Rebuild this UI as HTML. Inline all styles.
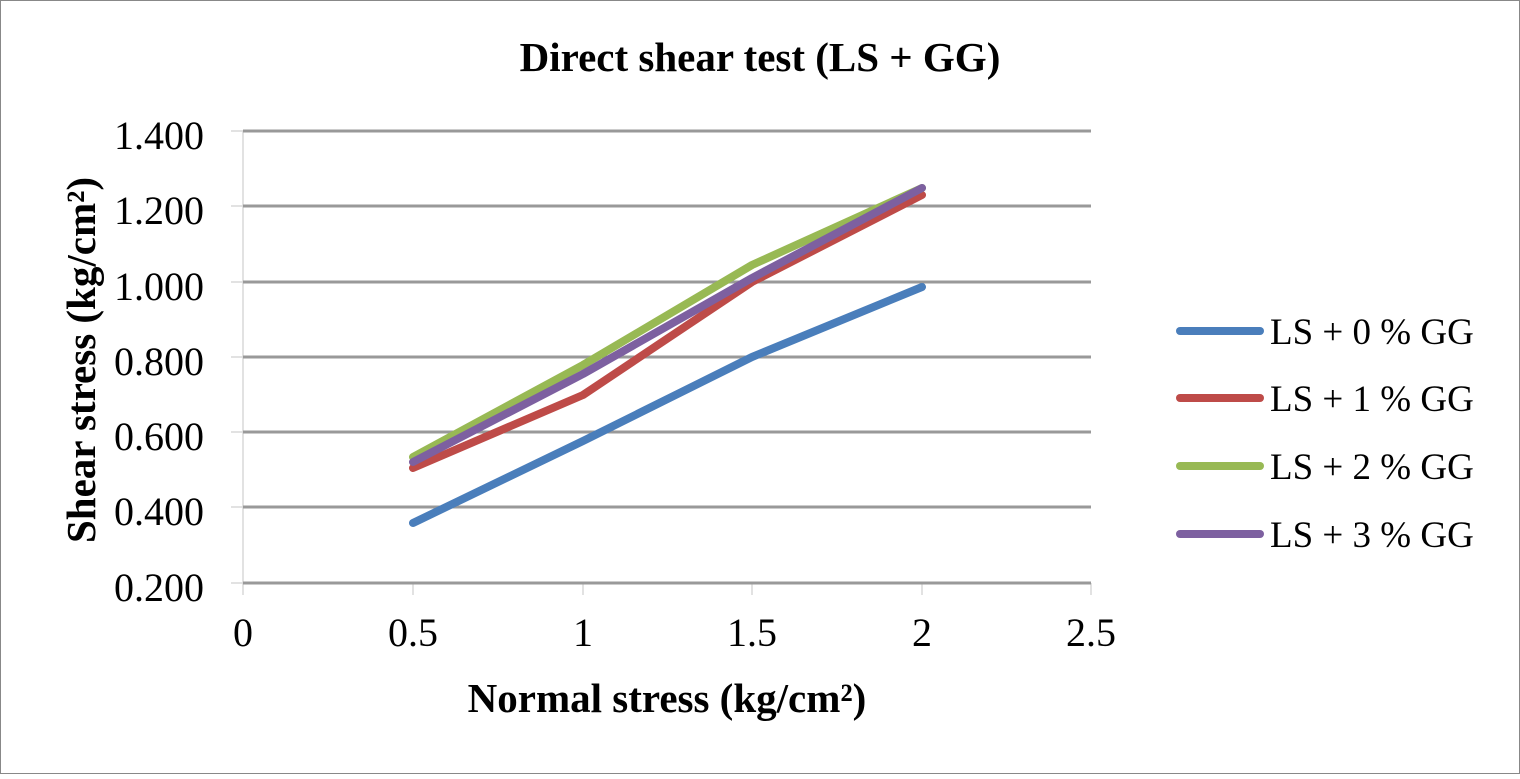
<!DOCTYPE html>
<html><head><meta charset="utf-8"><style>
html,body{margin:0;padding:0;background:#fff}
</style></head><body>
<svg width="1520" height="774" xmlns="http://www.w3.org/2000/svg" font-family="Liberation Serif, serif">
<rect x="0.5" y="0.5" width="1519" height="773" fill="#fff" stroke="#888" stroke-width="1"/>
<text x="760" y="71" text-anchor="middle" font-size="41" font-weight="bold">Direct shear test (LS + GG)</text>
<g stroke="#d9d9d9" stroke-width="1.5">
<line x1="231" y1="131" x2="243" y2="131"/>
<line x1="231" y1="206" x2="243" y2="206"/>
<line x1="231" y1="282" x2="243" y2="282"/>
<line x1="231" y1="357" x2="243" y2="357"/>
<line x1="231" y1="432" x2="243" y2="432"/>
<line x1="231" y1="507" x2="243" y2="507"/>
<line x1="231" y1="583" x2="243" y2="583"/>
<line x1="243" y1="131" x2="243" y2="595"/>
<line x1="413" y1="583" x2="413" y2="595"/>
<line x1="583" y1="583" x2="583" y2="595"/>
<line x1="752" y1="583" x2="752" y2="595"/>
<line x1="922" y1="583" x2="922" y2="595"/>
<line x1="1091" y1="583" x2="1091" y2="595"/>
</g>
<g stroke="#999" stroke-width="3">
<line x1="243" y1="131" x2="1091" y2="131"/>
<line x1="243" y1="206" x2="1091" y2="206"/>
<line x1="243" y1="282" x2="1091" y2="282"/>
<line x1="243" y1="357" x2="1091" y2="357"/>
<line x1="243" y1="432" x2="1091" y2="432"/>
<line x1="243" y1="507" x2="1091" y2="507"/>
<line x1="243" y1="583" x2="1091" y2="583"/>
</g>
<g font-size="40" text-anchor="end">
<text x="204" y="149">1.400</text>
<text x="204" y="224">1.200</text>
<text x="204" y="300">1.000</text>
<text x="204" y="375">0.800</text>
<text x="204" y="450">0.600</text>
<text x="204" y="525">0.400</text>
<text x="204" y="601">0.200</text>
</g>
<g font-size="40" text-anchor="middle">
<text x="243" y="646">0</text>
<text x="413" y="646">0.5</text>
<text x="583" y="646">1</text>
<text x="752" y="646">1.5</text>
<text x="922" y="646">2</text>
<text x="1091" y="646">2.5</text>
</g>
<text x="667" y="712" text-anchor="middle" font-size="41" font-weight="bold">Normal stress (kg/cm²)</text>
<text transform="translate(95,360) rotate(-90)" text-anchor="middle" font-size="41" font-weight="bold">Shear stress (kg/cm²)</text>
<g fill="none" stroke-width="8" stroke-linecap="round" stroke-linejoin="round">
<polyline stroke="#4a7ebb" points="413,523 583,441 752,357 922,287"/>
<polyline stroke="#be4b48" points="413,468 583,395 752,282 922,195"/>
<polyline stroke="#98b954" points="413,457 583,365 752,265 922,188"/>
<polyline stroke="#7d60a0" points="413,462 583,374 752,278 922,188"/>
</g>
<g stroke-width="8" stroke-linecap="round">
<line x1="1180" y1="331" x2="1260" y2="331" stroke="#4a7ebb"/>
<line x1="1180" y1="398" x2="1260" y2="398" stroke="#be4b48"/>
<line x1="1180" y1="466" x2="1260" y2="466" stroke="#98b954"/>
<line x1="1180" y1="534" x2="1260" y2="534" stroke="#7d60a0"/>
</g>
<g font-size="37">
<text x="1270" y="344">LS + 0 % GG</text>
<text x="1270" y="411">LS + 1 % GG</text>
<text x="1270" y="479">LS + 2 % GG</text>
<text x="1270" y="547">LS + 3 % GG</text>
</g>
</svg>
</body></html>
